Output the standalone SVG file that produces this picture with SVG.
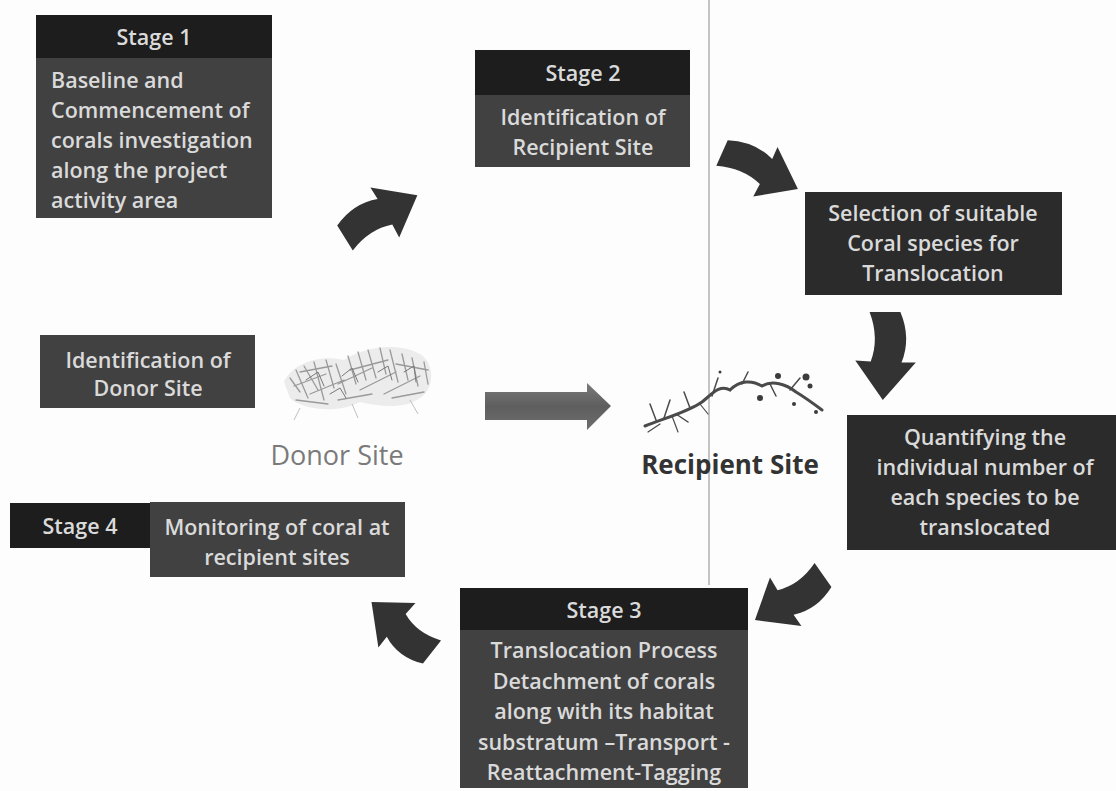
<svg xmlns="http://www.w3.org/2000/svg" width="1116" height="791" viewBox="0 0 1116 791">
  <style>
    .hdr { fill: #1d1d1d; }
    .body { fill: #414141; }
    .dark { fill: #2b2b2b; }
    .t { font-family: "Open Sans", "Liberation Sans", sans-serif; font-weight: 600; font-size: 21.5px; fill: #dadada; }
    .c { text-anchor: middle; }
    .arrow { fill: #333333; }
    .site { font-family: "Open Sans", "Liberation Sans", sans-serif; }
  </style>
  <defs>
    <!-- curved block arrow, tail centre at (0,0), tip at (80,0) -->
    <path id="curvedArrow" d="M0,-14 Q24,-24 46,-15 L46,-28 L80,2 L44,27 L45,13 Q24,5 0,14 Z"/>
    <linearGradient id="flowGrad" x1="0" y1="0" x2="0" y2="1">
      <stop offset="0" stop-color="#7a7a7a"/>
      <stop offset="0.5" stop-color="#5e5e5e"/>
      <stop offset="1" stop-color="#6e6e6e"/>
    </linearGradient>
  </defs>

  <rect width="1116" height="791" fill="#fdfdfd"/>

  <!-- divider line -->
  <line x1="709" y1="0" x2="709" y2="585" stroke="#8a8a8a" stroke-width="1"/>

  <g id="stage1">
    <rect class="hdr" x="36" y="15" width="236" height="43"/>
    <rect class="body" x="36" y="58" width="236" height="160"/>
    <text class="t c" x="154" y="45">Stage 1</text>
    <text class="t" x="51" y="88">Baseline and</text>
    <text class="t" x="51" y="118">Commencement of</text>
    <text class="t" x="51" y="148">corals investigation</text>
    <text class="t" x="51" y="178">along the project</text>
    <text class="t" x="51" y="208">activity area</text>
  </g>

  <g id="stage2">
    <rect class="hdr" x="475" y="50" width="215" height="45"/>
    <rect class="body" x="475" y="95" width="215" height="72"/>
    <text class="t c" x="583" y="81">Stage 2</text>
    <text class="t c" x="583" y="125">Identification of</text>
    <text class="t c" x="583" y="155">Recipient Site</text>
  </g>

  <g id="selection">
    <rect class="dark" x="805" y="192" width="257" height="103"/>
    <text class="t c" x="933" y="221">Selection of suitable</text>
    <text class="t c" x="933" y="251">Coral species for</text>
    <text class="t c" x="933" y="281">Translocation</text>
  </g>

  <g id="quantifying">
    <rect class="dark" x="847" y="415" width="269" height="135"/>
    <text class="t c" x="985" y="445">Quantifying the</text>
    <text class="t c" x="985" y="475">individual number of</text>
    <text class="t c" x="985" y="505">each species to be</text>
    <text class="t c" x="985" y="535">translocated</text>
  </g>

  <g id="stage3">
    <rect class="hdr" x="460" y="588" width="288" height="42"/>
    <rect class="body" x="460" y="630" width="288" height="158"/>
    <text class="t c" x="604" y="618">Stage 3</text>
    <text class="t c" x="604" y="658">Translocation Process</text>
    <text class="t c" x="604" y="689">Detachment of corals</text>
    <text class="t c" x="604" y="719">along with its habitat</text>
    <text class="t c" x="604" y="750">substratum –Transport -</text>
    <text class="t c" x="604" y="780">Reattachment-Tagging</text>
  </g>

  <g id="stage4">
    <rect class="hdr" x="10" y="503" width="145" height="45"/>
    <text class="t c" x="80" y="534">Stage 4</text>
    <rect class="body" x="150" y="502" width="255" height="75"/>
    <text class="t c" x="277" y="535">Monitoring of coral at</text>
    <text class="t c" x="277" y="565">recipient sites</text>
  </g>

  <g id="donor-identification">
    <rect class="body" x="40" y="335" width="215" height="73"/>
    <text class="t c" x="148" y="368">Identification of</text>
    <text class="t c" x="148" y="396">Donor Site</text>
  </g>

  <g id="donor-site">
    <!-- sketched coral clump -->
    <path d="M284,382 C292,364 318,354 344,360 C364,346 400,342 420,354 C436,364 434,390 420,398 C404,410 378,406 360,402 C338,414 302,410 290,398 Z" fill="#ececec"/>
    <g fill="none" stroke="#9a9a9a" stroke-width="1.3" stroke-linecap="round">
      <path d="M290,378 L300,392 M296,370 L308,398 M304,366 L318,390 M314,362 L324,400 M326,360 L334,388 M336,364 L346,394 M348,356 L356,384 M358,352 L366,380 M368,350 L376,378 M380,348 L386,374 M390,350 L398,382 M402,354 L408,380 M412,358 L418,386 M424,362 L428,384"/>
      <path d="M294,386 L326,374 M310,394 L344,380 M338,384 L372,368 M360,390 L396,372 M384,394 L420,376 M296,400 L328,404 M338,400 L372,394 M392,398 L424,392 M300,372 L332,366 M350,370 L388,360 M396,364 L428,370"/>
    </g>
    <g fill="none" stroke="#777777" stroke-width="1" stroke-linecap="round">
      <path d="M306,380 L318,372 L324,386 M342,376 L352,368 L358,382 M378,372 L388,366 L392,380 M404,372 L414,366 L416,382 M330,394 L340,388 L346,398"/>
    </g>
    <path d="M352,404 L358,418 M300,408 L294,420 M410,400 L418,414" stroke="#c0c0c0" stroke-width="1" fill="none"/>
    <text class="site c" x="337" y="465" font-size="27" fill="#7a7a7a">Donor Site</text>
  </g>

  <g id="recipient-site">
    <!-- sketched coral branch -->
    <g stroke="#4a4a4a" stroke-linecap="round" fill="none">
      <path d="M645,426 C665,418 688,412 702,402 C712,394 720,384 730,390 C740,380 752,380 762,386 C772,380 786,384 796,392 C806,398 814,404 822,410" stroke-width="3"/>
      <path d="M656,420 L650,404 M664,418 L670,400 M676,414 L688,422 M690,408 L684,392 M712,396 L718,378 M742,384 L748,372 M770,384 L776,396 M790,390 L800,378" stroke-width="1.5"/>
      <path d="M660,424 L648,432 M672,416 L678,432 M700,404 L708,414" stroke-width="1.2"/>
    </g>
    <g fill="#3c3c3c">
      <circle cx="778" cy="376" r="3"/>
      <circle cx="806" cy="377" r="3.5"/>
      <circle cx="810" cy="386" r="2.5"/>
      <circle cx="760" cy="398" r="3"/>
      <circle cx="794" cy="404" r="2"/>
      <circle cx="816" cy="412" r="2"/>
      <circle cx="720" cy="372" r="1.5"/>
    </g>
    <text class="site c" x="730" y="474" font-size="26" fill="#333333" font-weight="700">Recipient Site</text>
  </g>

  <g id="connectors">
    <use href="#curvedArrow" class="arrow" transform="translate(345,238) rotate(-32) scale(1.05,1.05)"/>
    <use href="#curvedArrow" class="arrow" transform="translate(722,153) rotate(24) scale(1.05,1)"/>
    <use href="#curvedArrow" class="arrow" transform="translate(885,312) rotate(90) scale(1.1,1.1)"/>
    <use href="#curvedArrow" class="arrow" transform="translate(823,575) rotate(145) scale(1.02,1.05)"/>
    <use href="#curvedArrow" class="arrow" transform="translate(432,652) rotate(-142) scale(0.98,1.05)"/>
    <!-- straight transfer arrow -->
    <path d="M485,392 L587,392 L587,383 L611,406 L587,430 L587,420 L485,420 Z" fill="url(#flowGrad)"/>
  </g>
</svg>
